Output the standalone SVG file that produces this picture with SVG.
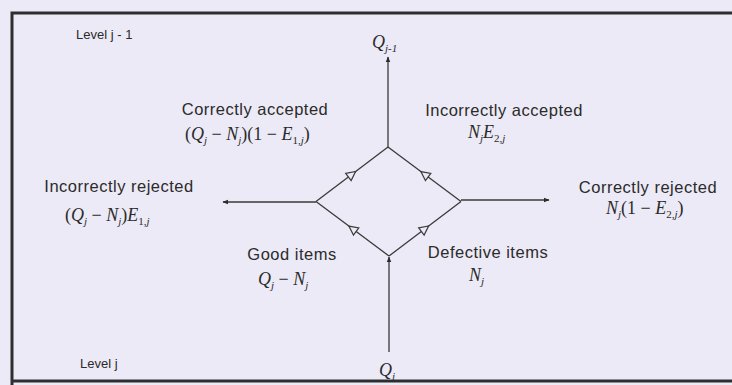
<svg xmlns="http://www.w3.org/2000/svg" width="732" height="385" viewBox="0 0 732 385">
<defs>
<style>
.lbl{font-family:"Liberation Sans",Arial,sans-serif;font-size:16.5px;letter-spacing:0.5px;fill:#2b2b2b}
.lv{font-family:"Liberation Sans",Arial,sans-serif;font-size:13px;fill:#2b2b2b}
.m{font-family:"Liberation Serif","Times New Roman",serif;font-size:18px;font-style:italic;fill:#2b2b2b}
.s{font-size:11px}
.n{font-style:normal}
.ln{fill:none;stroke:#3a3a3a;stroke-width:1.3}
</style>
<marker id="ah" viewBox="0 0 10 10" refX="9" refY="5" markerWidth="6" markerHeight="6" orient="auto" markerUnits="userSpaceOnUse">
<path d="M0,1 L10,5 L0,9 Z" fill="#2b2b2b"/>
</marker>
<marker id="tri" viewBox="0 0 12 12" refX="6" refY="6" markerWidth="12" markerHeight="12" orient="auto" markerUnits="userSpaceOnUse">
<path d="M1.5,1.5 L10.5,6 L1.5,10.5 Z" fill="#eceaf6" stroke="#3a3a3a" stroke-width="1.2"/>
</marker>
</defs>
<rect x="0" y="0" width="732" height="385" fill="#eceaf6"/>
<path d="M12,385 L12,13 L732,13" fill="none" stroke="#2e2e2e" stroke-width="3"/>
<path d="M12,381 L732,381" fill="none" stroke="#2e2e2e" stroke-width="3"/>

<g id="connectors">
<path class="ln" d="M389,352 L389,257" marker-end="url(#ah)"/>
<path class="ln" d="M389,256 L352.5,228.75 L316,201.5" marker-mid="url(#tri)"/>
<path class="ln" d="M389,256 L425,228.75 L461,201.5" marker-mid="url(#tri)"/>
<path class="ln" d="M316,201.5 L352,174.25 L388,147" marker-mid="url(#tri)"/>
<path class="ln" d="M461,201.5 L424.5,174.25 L388,147" marker-mid="url(#tri)"/>
<path class="ln" d="M388,147 L388,57" marker-end="url(#ah)"/>
<path class="ln" d="M316,202 L223,202" marker-end="url(#ah)"/>
<path class="ln" d="M461,200 L549,200" marker-end="url(#ah)"/>
</g>

<g id="level-top"><text class="lv" x="76" y="39">Level j - 1</text></g>
<g id="level-bottom"><text class="lv" x="80" y="368">Level j</text></g>

<g id="q-out"><text class="m" x="372" y="48">Q<tspan class="s" dy="4">j-1</tspan></text></g>
<g id="q-in"><text class="m" x="379" y="376">Q<tspan class="s" dy="4">j</tspan></text></g>

<g id="correctly-accepted">
<text class="lbl" x="255" y="115" text-anchor="middle">Correctly accepted</text>
<text class="m" x="185" y="140"><tspan class="n">(</tspan>Q<tspan class="s" dy="4">j</tspan><tspan class="n" dy="-4"> − </tspan>N<tspan class="s" dy="4">j</tspan><tspan class="n" dy="-4">)(1 − </tspan>E<tspan class="s n" dy="4">1,</tspan><tspan class="s">j</tspan><tspan class="n" dy="-4">)</tspan></text>
</g>

<g id="incorrectly-accepted">
<text class="lbl" x="504" y="116" text-anchor="middle">Incorrectly accepted</text>
<text class="m" x="468" y="138">N<tspan class="s" dy="4">j</tspan><tspan dy="-4">E</tspan><tspan class="s n" dy="4">2,</tspan><tspan class="s">j</tspan></text>
</g>

<g id="incorrectly-rejected">
<text class="lbl" x="119" y="192" text-anchor="middle">Incorrectly rejected</text>
<text class="m" x="65" y="221"><tspan class="n">(</tspan>Q<tspan class="s" dy="4">j</tspan><tspan class="n" dy="-4"> − </tspan>N<tspan class="s" dy="4">j</tspan><tspan class="n" dy="-4">)</tspan>E<tspan class="s n" dy="4">1,</tspan><tspan class="s">j</tspan></text>
</g>

<g id="correctly-rejected">
<text class="lbl" x="648" y="193" text-anchor="middle">Correctly rejected</text>
<text class="m" x="606" y="214">N<tspan class="s" dy="4">j</tspan><tspan class="n" dy="-4">(1 − </tspan>E<tspan class="s n" dy="4">2,</tspan><tspan class="s">j</tspan><tspan class="n" dy="-4">)</tspan></text>
</g>

<g id="good-items">
<text class="lbl" x="292" y="260" text-anchor="middle">Good items</text>
<text class="m" x="258" y="285">Q<tspan class="s" dy="4">j</tspan><tspan class="n" dy="-4"> − </tspan>N<tspan class="s" dy="4">j</tspan></text>
</g>

<g id="defective-items">
<text class="lbl" x="488" y="258" text-anchor="middle">Defective items</text>
<text class="m" x="469" y="281">N<tspan class="s" dy="4">j</tspan></text>
</g>
</svg>
